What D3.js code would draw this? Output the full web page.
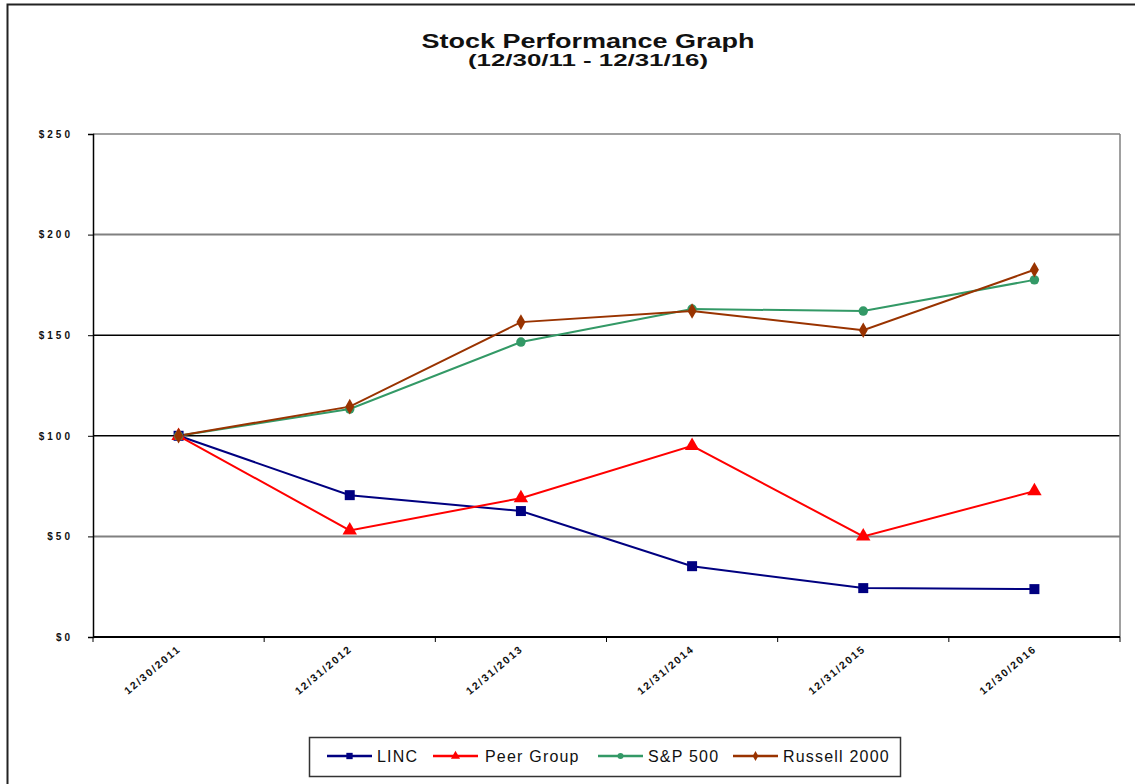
<!DOCTYPE html>
<html>
<head>
<meta charset="utf-8">
<script src="https://cdn.jsdelivr.net/npm/d3@7"></script>
<style>
  html, body { margin: 0; padding: 0; background: #fff; }
  svg { display: block; font-family: "Liberation Sans", Arial, sans-serif; }
</style>
</head>
<body>
<svg id="chart" width="1135" height="784"></svg>
<script>
// ---- Data ----
const categories = ["12/30/2011", "12/31/2012", "12/31/2013", "12/31/2014", "12/31/2015", "12/30/2016"];
const lincValues = [100, 70.5, 62.6, 35.2, 24.3, 23.8];
const peerValues = [100, 53, 69, 95, 50, 72.5];
const spValues = [100, 113.3, 146.6, 163, 162, 177.5];
const russellValues = [100, 114.5, 156.5, 162, 152.5, 182.5];
const yTicks = [0, 50, 100, 150, 200, 250];
const seriesNames = ["LINC", "Peer Group", "S&P 500", "Russell 2000"];
const titleText = "Stock Performance Graph";
const subtitleText = "(12/30/11 - 12/31/16)";

const series = [
  { name: seriesNames[0], values: lincValues, color: "#000080", symbol: d3.symbolSquare, size: 100 },
  { name: seriesNames[1], values: peerValues, color: "#ff0000", symbol: d3.symbolTriangle, size: 90 },
  { name: seriesNames[2], values: spValues, color: "#339966", symbol: d3.symbolCircle, size: 70 },
  { name: seriesNames[3], values: russellValues, color: "#993300", symbol: d3.symbolDiamond, size: 70 }
];

const svg = d3.select("#chart");
const plot = { left: 93, right: 1120, top: 134, bottom: 637 };

// outer frame
svg.append("rect").attr("x", 7.5).attr("y", 4.5).attr("width", 1300).attr("height", 900)
  .attr("fill", "#fff").attr("stroke", "#222").attr("stroke-width", 2);

// titles
svg.append("text").attr("x", 588).attr("y", 48).attr("text-anchor", "middle")
  .attr("font-size", 21).attr("font-weight", "bold").attr("fill", "#111")
  .attr("textLength", 333).attr("lengthAdjust", "spacingAndGlyphs").text(titleText);
svg.append("text").attr("x", 588).attr("y", 66).attr("text-anchor", "middle")
  .attr("font-size", 17).attr("font-weight", "bold").attr("fill", "#111")
  .attr("textLength", 240).attr("lengthAdjust", "spacingAndGlyphs").text(subtitleText);

const x = d3.scaleBand().domain(categories).range([plot.left, plot.right]);
const y = d3.scaleLinear().domain([0, 250]).range([plot.bottom, plot.top]);

// gridlines
const gridStyle = { 0: null, 50: ["#808080", 2], 100: ["#000", 1.5], 150: ["#000", 1.5], 200: ["#808080", 2], 250: ["#808080", 1.5] };
svg.append("g").selectAll("line").data(yTicks.filter(t => gridStyle[t])).join("line")
  .attr("x1", plot.left).attr("x2", plot.right)
  .attr("y1", d => y(d)).attr("y2", d => y(d))
  .attr("stroke", d => gridStyle[d][0]).attr("stroke-width", d => gridStyle[d][1]);

// right border of plot
svg.append("line").attr("x1", plot.right).attr("x2", plot.right)
  .attr("y1", y(250)).attr("y2", y(0)).attr("stroke", "#808080").attr("stroke-width", 1.5);

// y axis
const yAxis = d3.axisLeft(y).tickValues(yTicks).tickFormat(d => "$" + d).tickSize(5).tickPadding(15);
const gy = svg.append("g").attr("transform", `translate(${plot.left},0)`).call(yAxis);
gy.select(".domain").attr("stroke", "#000").attr("stroke-width", 1.5);
gy.selectAll(".tick line").attr("stroke", "#000");
gy.selectAll(".tick text").attr("font-size", 10).attr("font-weight", "bold")
  .attr("letter-spacing", "3px").attr("fill", "#111")
  .attr("font-family", "\"Liberation Sans\", Arial, sans-serif");

// x axis: ticks at band boundaries
const gx = svg.append("g").attr("transform", `translate(0,${plot.bottom})`);
gx.append("line").attr("x1", plot.left).attr("x2", plot.right).attr("y1", 0).attr("y2", 0)
  .attr("stroke", "#000").attr("stroke-width", 2);
const boundaries = categories.map(c => x(c)).concat([x(categories[categories.length - 1]) + x.bandwidth()]);
gx.selectAll("line.tk").data(boundaries).join("line").attr("class", "tk")
  .attr("x1", d => d).attr("x2", d => d).attr("y1", 0).attr("y2", 5).attr("stroke", "#000");
gx.selectAll("text").data(categories).join("text")
  .attr("transform", d => `translate(${x(d) + x.bandwidth() / 2 + 3},${13}) rotate(-40)`)
  .attr("text-anchor", "end").attr("font-size", 10.5).attr("font-weight", "bold")
  .attr("letter-spacing", "1.8px").attr("fill", "#111").text(d => d);

// lines and markers
const line = d3.line().x((d, i) => x(categories[i]) + x.bandwidth() / 2).y(d => y(d));
series.forEach(s => {
  svg.append("path").datum(s.values).attr("d", line)
    .attr("fill", "none").attr("stroke", s.color).attr("stroke-width", 2);
});
series.forEach(s => {
  svg.append("g").selectAll("path").data(s.values).join("path")
    .attr("d", d3.symbol().type(s.symbol).size(s.size))
    .attr("transform", (d, i) => `translate(${x(categories[i]) + x.bandwidth() / 2},${y(d)})`)
    .attr("fill", s.color);
});

// legend
const legend = svg.append("g");
legend.append("rect").attr("x", 309.5).attr("y", 737.5).attr("width", 591).attr("height", 39)
  .attr("fill", "#fff").attr("stroke", "#333").attr("stroke-width", 1.5);
const legendX = [327, 433, 598, 733];
series.forEach((s, i) => {
  const g = legend.append("g").attr("transform", `translate(${legendX[i]},756)`);
  g.append("line").attr("x1", 0).attr("x2", 45).attr("y1", 0).attr("y2", 0)
    .attr("stroke", s.color).attr("stroke-width", 2.5);
  g.append("path").attr("d", d3.symbol().type(s.symbol).size(s.size * 0.4))
    .attr("transform", "translate(22.5,0)").attr("fill", s.color);
  g.append("text").attr("x", i === 1 ? 52 : 50).attr("y", 6).attr("font-size", 16)
    .attr("letter-spacing", "1.2px").attr("fill", "#111").text(s.name);
});
</script>
</body>
</html>
